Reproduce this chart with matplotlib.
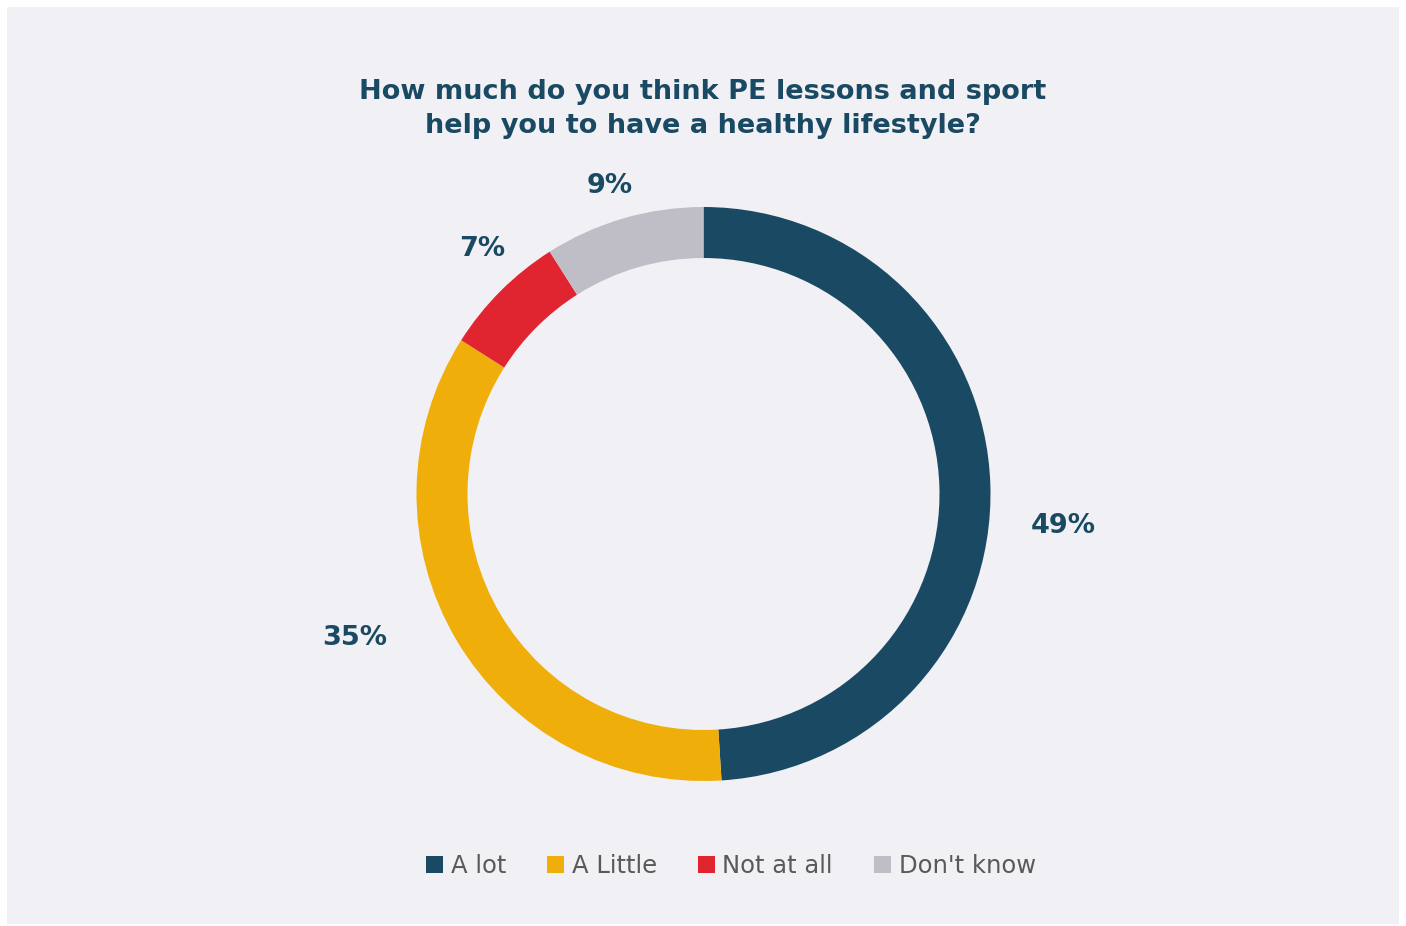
import matplotlib.pyplot as plt
from matplotlib.patches import Patch, Rectangle

# Chart data
categories = ['A lot', 'A Little', 'Not at all', "Don't know"]
values = [49, 35, 7, 9]
colors = ['#1a4a63', '#f0ae0a', '#e02531', '#bfbec7']
title = 'How much do you think PE lessons and sport\nhelp you to have a healthy lifestyle?'

W, H = 1406, 926
fig = plt.figure(figsize=(W / 100, H / 100), dpi=100)
fig.patch.set_facecolor('white')

# pixel-based axes (y measured from the top of the image)
ax = fig.add_axes([0, 0, 1, 1])
ax.set_xlim(0, W)
ax.set_ylim(H, 0)
ax.axis('off')

# background panel
ax.add_patch(Rectangle((7, 7), 1392, 917, facecolor='#f1f0f5', edgecolor='none', zorder=0))

cx, cy, r = 703.5, 494, 287
ring = 51

# donut (y axis is inverted, so counterclock=True draws clockwise on screen)
wedges, _ = ax.pie(values, colors=colors, startangle=-90, counterclock=True,
                   center=(cx, cy), radius=r, frame=True,
                   wedgeprops=dict(width=ring, edgecolor='none'))
ax.set_xlim(0, W)
ax.set_ylim(H, 0)
ax.axis('off')

# percentage labels
label_pos = [(1063, 526), (355, 638), (482, 249), (610, 186)]
for v, (lx, ly) in zip(values, label_pos):
    ax.text(lx, ly, f'{v}%', ha='center', va='center', fontsize=19.5,
            fontweight='bold', color='#1a4a63')

ax.text(703, 109, title, ha='center', va='center', fontsize=19.5,
        fontweight='bold', color='#1a4a63', linespacing=1.4)

handles = [Patch(facecolor=c, edgecolor='none', label=l) for c, l in zip(colors, categories)]
fig.legend(handles=handles, loc='center', bbox_to_anchor=(731 / W, 1 - 866 / H), ncol=4,
           frameon=False, fontsize=17.5, labelcolor='#595959',
           handlelength=0.7, handleheight=0.7, handletextpad=0.3, columnspacing=1.7)

fig.savefig('out.png', dpi=100)
